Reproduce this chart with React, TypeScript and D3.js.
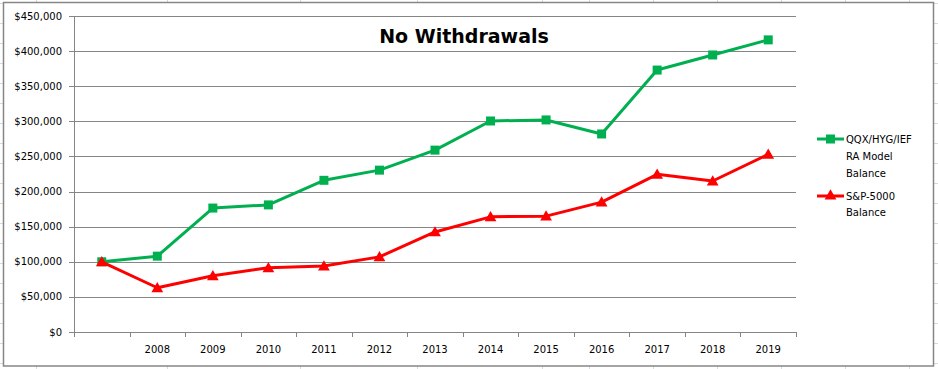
import React from 'react'
import * as d3 from 'd3'

const categories = ['', '2008', '2009', '2010', '2011', '2012', '2013', '2014', '2015', '2016', '2017', '2018', '2019']
const modelBalance = [100000, 108000, 176500, 181000, 216000, 230500, 259000, 300500, 302000, 282000, 373000, 394500, 416000]
const spBalance = [100000, 63000, 80000, 91500, 94000, 107000, 142500, 164000, 165000, 185000, 224500, 215000, 253000]
const yTicks = [0, 50000, 100000, 150000, 200000, 250000, 300000, 350000, 400000, 450000]
const sheetCols = [36, 167, 300, 417, 542, 589, 653, 717, 781, 845, 909]

const W = 938
const H = 369
const FRAME = { x: 3.5, y: 2.5, w: 930, h: 363.5 }
const PLOT = { left: 74, right: 796, top: 16, bottom: 332 }
const GREEN = '#00B050'
const RED = '#FF0000'
const GRID = '#868686'
const FONT = "'DejaVu Sans', Verdana, sans-serif"

export default function App() {
  const x = d3.scaleBand<string>()
    .domain(categories.map((c, i) => `${i}`))
    .range([PLOT.left, PLOT.right])
  const y = d3.scaleLinear().domain([0, 450000]).range([PLOT.bottom, PLOT.top])
  const cx = (i: number) => x(`${i}`)! + x.bandwidth() / 2

  const line = d3.line<number>()
    .x((_, i) => cx(i))
    .y(d => y(d))

  const tri = d3.symbol().type(d3.symbolTriangle).size(60)()!

  // faint spreadsheet cells behind the chart object
  const rows: number[] = []
  for (let r = 3; r < H; r += 20) rows.push(r)

  return (
    <svg width={W} height={H} style={{ display: 'block', position: 'absolute', left: 0, top: 0 }}>
      <rect width={W} height={H} fill="#fff" />
      <g stroke="#d9d9d9" strokeWidth={1}>
        {rows.map(r => (
          <g key={r}>
            <line x1={0} x2={3} y1={r + 0.5} y2={r + 0.5} />
            <line x1={934} x2={W} y1={r + 0.5} y2={r + 0.5} />
          </g>
        ))}
        {sheetCols.map(c => (
          <g key={c}>
            <line x1={c + 0.5} x2={c + 0.5} y1={0} y2={2} />
            <line x1={c + 0.5} x2={c + 0.5} y1={366} y2={H} />
          </g>
        ))}
      </g>
      <rect x={FRAME.x} y={FRAME.y} width={FRAME.w} height={FRAME.h} fill="#fff" stroke={GRID} strokeWidth={1.5} />

      {/* gridlines + y labels */}
      {yTicks.map(t => (
        <g key={t}>
          <line x1={PLOT.left - 5} x2={PLOT.right} y1={Math.round(y(t)) + 0.5} y2={Math.round(y(t)) + 0.5} stroke={GRID} strokeWidth={1} />
          <text x={62} y={y(t)} dy="0.35em" textAnchor="end" fontFamily={FONT} fontSize={10} fill="#000">
            {d3.format('$,')(t)}
          </text>
        </g>
      ))}
      <line x1={PLOT.left + 0.5} x2={PLOT.left + 0.5} y1={PLOT.top} y2={PLOT.bottom} stroke={GRID} />

      {/* x ticks + labels */}
      {categories.map((c, i) => (
        <g key={i}>
          <line x1={Math.round(x(`${i}`)!) + 0.5} x2={Math.round(x(`${i}`)!) + 0.5} y1={PLOT.bottom} y2={PLOT.bottom + 5} stroke={GRID} />
          <text x={cx(i)} y={353} textAnchor="middle" fontFamily={FONT} fontSize={10} fill="#000">{c}</text>
        </g>
      ))}
      <line x1={PLOT.right + 0.5} x2={PLOT.right + 0.5} y1={PLOT.bottom} y2={PLOT.bottom + 5} stroke={GRID} />

      {/* series */}
      <path d={line(modelBalance)!} fill="none" stroke={GREEN} strokeWidth={3} strokeLinejoin="round" />
      {modelBalance.map((v, i) => (
        <rect key={i} x={cx(i) - 4.5} y={y(v) - 4.5} width={9} height={9} fill={GREEN} />
      ))}
      <path d={line(spBalance)!} fill="none" stroke={RED} strokeWidth={3} strokeLinejoin="round" />
      {spBalance.map((v, i) => (
        <path key={i} d={tri} transform={`translate(${cx(i)},${y(v) + 1})`} fill={RED} />
      ))}

      {/* title */}
      <text x={464} y={43} textAnchor="middle" fontFamily={FONT} fontWeight="bold" fontSize={19} fill="#000">
        No Withdrawals
      </text>

      {/* legend */}
      <g fontFamily={FONT} fontSize={10} fill="#000">
        <line x1={817} x2={844} y1={139} y2={139} stroke={GREEN} strokeWidth={3} />
        <rect x={826} y={134.5} width={9} height={9} fill={GREEN} />
        <text x={846} y={139} dy="0.35em">QQX/HYG/IEF</text>
        <text x={846} y={156} dy="0.35em">RA Model</text>
        <text x={846} y={173} dy="0.35em">Balance</text>
        <line x1={817} x2={844} y1={196} y2={196} stroke={RED} strokeWidth={3} />
        <path d={tri} transform="translate(830.5,196)" fill={RED} />
        <text x={846} y={196} dy="0.35em">S&amp;P-5000</text>
        <text x={846} y={212} dy="0.35em">Balance</text>
      </g>
    </svg>
  )
}
